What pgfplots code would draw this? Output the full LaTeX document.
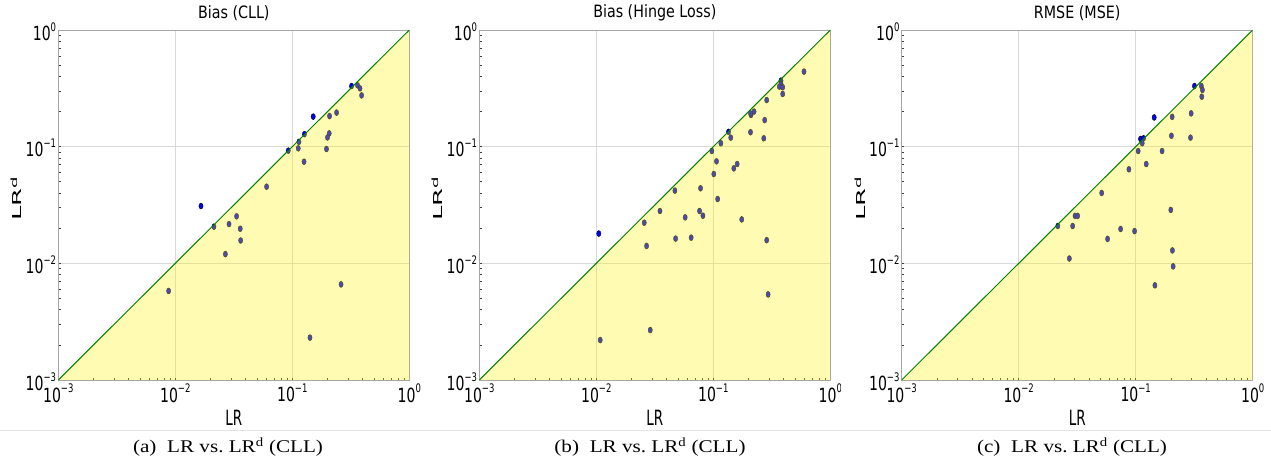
\documentclass[border=0pt]{standalone}
\usepackage{pgfplots}
\pgfplotsset{compat=1.18}
\usepackage{pgfplotstable}
\usepackage{fontspec}
\newfontfamily\tf[FakeStretch=0.72]{DejaVu Sans}
\newfontfamily\ttlf[FakeStretch=0.84]{DejaVu Sans}
\newfontfamily\xlf[FakeStretch=0.64]{DejaVu Sans}
\newfontfamily\yf[FakeStretch=2.1]{DejaVu Sans}
\newfontfamily\cf[FakeStretch=1.18]{Liberation Serif}
\definecolor{ptblue}{RGB}{0,0,255}
\definecolor{diag}{RGB}{0,128,0}
\newcommand{\tk}[1]{10\raisebox{0.47em}{\fontsize{11.8}{11.8}\selectfont #1}}

\pgfplotstableread{
x y
0.321 0.331
0.361 0.336
0.379 0.316
0.391 0.275
0.239 0.196
0.208 0.183
0.151 0.181
0.127 0.128
0.207 0.130
0.200 0.120
0.114 0.110
0.1125 0.0968
0.196 0.0955
0.0924 0.0924
0.126 0.0743
0.0603 0.0454
0.01658 0.031
0.0214 0.0206
0.0288 0.0217
0.0334 0.0253
0.0359 0.0198
0.0362 0.0157
0.0268 0.0120
0.00877 0.0058
0.261 0.0066
0.1416 0.00231
}\dataA

\pgfplotstableread{
x y
0.596 0.44
0.379 0.368
0.379 0.345
0.367 0.327
0.392 0.323
0.392 0.283
0.286 0.251
0.223 0.200
0.210 0.187
0.208 0.193
0.275 0.169
0.135 0.134
0.208 0.133
0.141 0.1195
0.270 0.118
0.116 0.107
0.0972 0.0918
0.1065 0.0749
0.160 0.071
0.1497 0.0652
0.101 0.0583
0.047 0.042
0.0778 0.044
0.109 0.0356
0.035 0.0281
0.0763 0.0281
0.0815 0.0256
0.0575 0.0248
0.175 0.0238
0.0257 0.0223
0.0105 0.0180
0.0476 0.0163
0.0647 0.0166
0.286 0.0158
0.0269 0.0141
0.294 0.00542
0.0289 0.00268
0.0108 0.0022
}\dataB

\pgfplotstableread{
x y
0.318 0.331
0.364 0.331
0.372 0.306
0.367 0.268
0.298 0.193
0.205 0.180
0.144 0.178
0.202 0.124
0.294 0.1195
0.110 0.1164
0.1167 0.118
0.1137 0.107
0.105 0.0918
0.168 0.0918
0.123 0.071
0.0875 0.064
0.0512 0.0401
0.1996 0.0287
0.0216 0.0209
0.0303 0.0255
0.0319 0.0255
0.0289 0.0209
0.0743 0.0197
0.0978 0.0189
0.0575 0.0162
0.0271 0.011
0.206 0.0129
0.209 0.00942
0.146 0.00648
}\dataC

\pgfplotsset{
 myPanel/.style={
  scale only axis, width=351pt, height=350pt,
  xmin=1e-3, xmax=1, ymin=1e-3, ymax=1,
  clip marker paths=true,
  xtick={0.001,0.01,0.1,1}, ytick={0.001,0.01,0.1,1},
  xticklabels={\tk{−3},\tk{−2},\tk{−1},\tk{0}},
  yticklabels={\tk{−3},\tk{−2},\tk{−1},\tk{0}},
  grid=major, major grid style={black!15, line width=0.8pt},
  axis line style={black!35, line width=1pt},
  tick pos=left, tick align=inside, major tick length=0pt, minor tick length=2.5pt,
  minor tick style={black!75, line width=0.6pt},
  ticklabel style={font=\tf\fontsize{19.5}{19.5}\selectfont, inner sep=1pt},
  xticklabel style={anchor=north, yshift=-3pt},
  yticklabel style={anchor=east, xshift=-1pt, yshift=-1.5pt},
  title style={font=\ttlf\fontsize{17}{17}\selectfont, at={(axis description cs:0.5,1)}, anchor=center, yshift=11pt},
  xlabel={LR},
  xlabel style={font=\xlf\fontsize{21}{21}\selectfont, at={(axis description cs:0.5,-0.1086)}, anchor=center},
  ylabel={LR\textsuperscript{d}},
  ylabel style={font=\yf\fontsize{12.3}{12.3}\selectfont, at={(axis description cs:-0.119,0.5186)}, anchor=center},
 },
 myPts/.style={only marks, mark=*, mark size=3pt, mark options={draw=none, fill=ptblue, xscale=0.7}},
 myTri/.style={fill=yellow, fill opacity=0.3, draw=none},
 myDg/.style={color=diag, line width=1pt, no marks},
}

\begin{document}
\begin{tikzpicture}[x=1pt,y=1pt]
\path[use as bounding box] (0,0) rectangle (1271,467);

\begin{scope}
\clip (0,0) rectangle (420,467);
\begin{loglogaxis}[myPanel, at={(58.3pt,87pt)}, anchor=south west, title={Bias (CLL)}]
\addplot[myPts] table[x=x,y=y] {\dataA};
\addplot[myTri] coordinates {(0.001,0.001) (1,1) (1,0.001) (0.001,0.001)};
\addplot[myDg] coordinates {(0.001,0.001) (1,1)};
\end{loglogaxis}
\end{scope}

\begin{scope}
\clip (420,0) rectangle (840,467);
\begin{loglogaxis}[myPanel, at={(479.3pt,87pt)}, anchor=south west, title={Bias (Hinge Loss)}]
\addplot[myPts] table[x=x,y=y] {\dataB};
\addplot[myTri] coordinates {(0.001,0.001) (1,1) (1,0.001) (0.001,0.001)};
\addplot[myDg] coordinates {(0.001,0.001) (1,1)};
\end{loglogaxis}
\end{scope}

\begin{scope}
\clip (840,0) rectangle (1271,467);
\begin{loglogaxis}[myPanel, at={(901.7pt,87pt)}, anchor=south west, title={RMSE (MSE)}]
\addplot[myPts] table[x=x,y=y] {\dataC};
\addplot[myTri] coordinates {(0.001,0.001) (1,1) (1,0.001) (0.001,0.001)};
\addplot[myDg] coordinates {(0.001,0.001) (1,1)};
\end{loglogaxis}
\end{scope}

\draw[black!10, line width=1pt] (0,36.5) -- (1271,36.5);
\node[anchor=base, inner sep=0pt, font=\cf\fontsize{17.9}{17.9}\selectfont] at (228,14.3) {(a)\hspace{0.6em}LR vs.\ LR\textsuperscript{d} (CLL)};
\node[anchor=base, inner sep=0pt, font=\cf\fontsize{17.9}{17.9}\selectfont] at (650,14.3) {(b)\hspace{0.6em}LR vs.\ LR\textsuperscript{d} (CLL)};
\node[anchor=base, inner sep=0pt, font=\cf\fontsize{17.9}{17.9}\selectfont] at (1072,14.3) {(c)\hspace{0.6em}LR vs.\ LR\textsuperscript{d} (CLL)};
\end{tikzpicture}
\end{document}
